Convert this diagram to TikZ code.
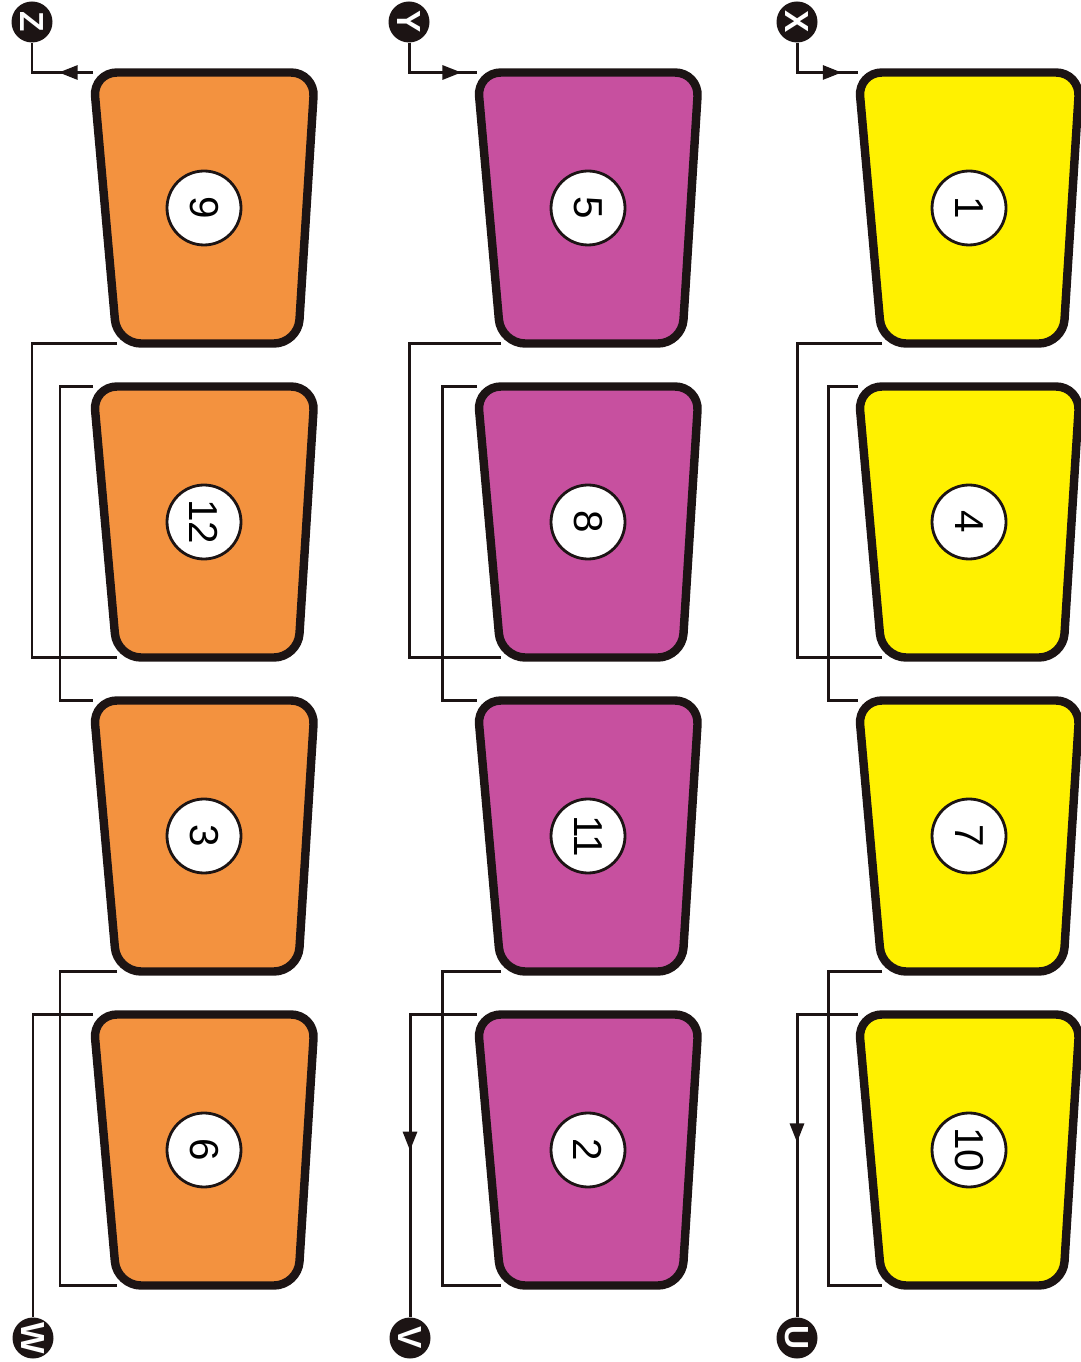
\documentclass[tikz,border=0pt]{standalone}
\usepackage{fontspec}
\setsansfont{Liberation Sans}
\usetikzlibrary{arrows.meta,positioning,decorations.markings}
\definecolor{tangerine}{HTML}{F3923F}
\definecolor{orchid}{HTML}{C7509F}
\definecolor{lemon}{HTML}{FFF100}
\definecolor{ink}{HTML}{1C1414}
% tapered block: [placement]{name}{colour}
\newcommand{\slab}[3][]{%
  \node[slabcore, #1] (#2) {};
  \draw[slabline, fill=#3] (#2.north west) -- (#2.north east)
    -- ([xshift=-1.7mm]#2.south east) -- ([xshift=2.4mm]#2.south west) -- cycle;
  \coordinate (#2-bl) at ([xshift=2.4mm]#2.south west);}

\begin{document}
\begin{tikzpicture}[
  x=0.1mm, y=-0.1mm,
  node distance=4.3mm and 16mm,
  slabcore/.style={rectangle, minimum width=22.2mm, minimum height=27.1mm,
                   inner sep=0pt, outer sep=0pt},
  slabline/.style={draw=ink, line width=2.4pt, rounded corners=2.4mm},
  num/.style={circle, draw=ink, fill=white, line width=0.8pt, minimum size=7.4mm,
              inner sep=0pt, font=\sffamily\fontsize{11.5}{11.5}\selectfont, rotate=-90},
  term/.style={circle, fill=ink, text=white, minimum size=4.1mm, inner sep=0pt,
               font=\sffamily\bfseries\fontsize{9.5}{9.5}\selectfont, rotate=-90},
  wire/.style={line width=0.85pt, color=ink},
  midarr/.style={postaction={decorate}, decoration={markings,
                 mark=at position #1 with {\arrow{Triangle[length=1.9mm, width=1.4mm]}}}}
]
\useasboundingbox (0,0) rectangle (1080,1362);

% orange column
\slab[at={(204,208)}]{b9}{tangerine}
\slab[below=of b9]{b12}{tangerine}
\slab[below=of b12]{b3}{tangerine}
\slab[below=of b3]{b6}{tangerine}
% magenta column
\slab[at={(588,208)}]{b5}{orchid}
\slab[below=of b5]{b8}{orchid}
\slab[below=of b8]{b11}{orchid}
\slab[below=of b11]{b2}{orchid}
% yellow column
\slab[at={(969,208)}]{b1}{lemon}
\slab[below=of b1]{b4}{lemon}
\slab[below=of b4]{b7}{lemon}
\slab[below=of b7]{b10}{lemon}

\node[num] (n9) at (b9) {9};
\node[num] (n12) at (b12) {12};
\node[num] (n3) at (b3) {3};
\node[num] (n6) at (b6) {6};
\node[num] (n5) at (b5) {5};
\node[num] (n8) at (b8) {8};
\node[num] (n11) at (b11) {11};
\node[num] (n2) at (b2) {2};
\node[num] (n1) at (b1) {1};
\node[num] (n4) at (b4) {4};
\node[num] (n7) at (b7) {7};
\node[num] (n10) at (b10) {10};

% terminals
\node[term] (Z) at (32,22) {Z};
\node[term] (W) at (33,1338) {W};
\node[term] (Y) at (409,22) {Y};
\node[term] (V) at (410,1338) {V};
\node[term] (X) at (797,22) {X};
\node[term] (U) at (797,1338) {U};
\coordinate (zw) at (60,0);
\coordinate (yv) at (442,0);
\coordinate (xu) at (828,0);

% Z-W chain
\draw[wire, midarr=0.38] (b9.north west) -| (Z);
\draw[wire] (b9-bl) -- (b9-bl -| Z) |- (b12-bl);
\draw[wire] (b12.north west) -- (b12.north west -| zw) |- (b3.north west);
\draw[wire] (b3-bl) -- (b3-bl -| zw) |- (b6-bl);
\draw[wire] (b6.north west) -| (W);
% Y-V chain
\draw[wire, midarr=0.84] (Y) |- (b5.north west);
\draw[wire] (b5-bl) -- (b5-bl -| Y) |- (b8-bl);
\draw[wire] (b8.north west) -- (b8.north west -| yv) |- (b11.north west);
\draw[wire] (b11-bl) -- (b11-bl -| yv) |- (b2-bl);
\draw[wire, midarr=0.55] (b2.north west) -| (V);
% X-U chain
\draw[wire, midarr=0.82] (X) |- (b1.north west);
\draw[wire] (b1-bl) -- (b1-bl -| X) |- (b4-bl);
\draw[wire] (b4.north west) -- (b4.north west -| xu) |- (b7.north west);
\draw[wire] (b7-bl) -- (b7-bl -| xu) |- (b10-bl);
\draw[wire, midarr=0.52] (b10.north west) -| (U);
\end{tikzpicture}
\end{document}
